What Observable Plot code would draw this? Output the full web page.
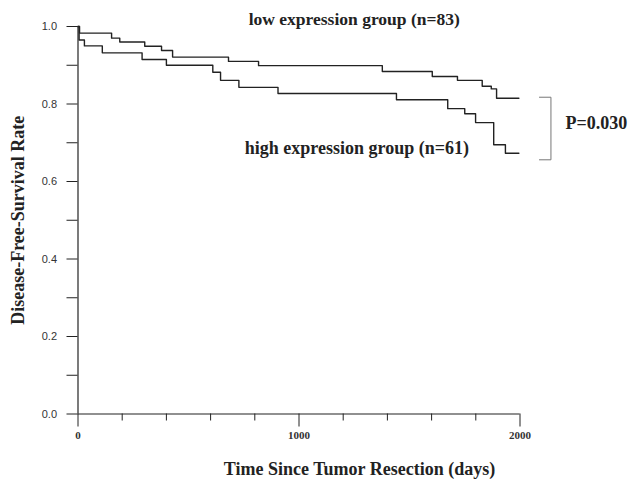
<!DOCTYPE html>
<html>
<head>
<meta charset="utf-8">
<script src="https://cdn.jsdelivr.net/npm/d3@7"></script>
<script src="https://cdn.jsdelivr.net/npm/@observablehq/plot@0.6"></script>
<style>
  html, body { margin: 0; padding: 0; background: #fff; }
  #chart { width: 628px; height: 488px; }
</style>
</head>
<body>
<div id="chart"></div>
<script>
// Kaplan–Meier steps (days, disease-free survival rate)
const lowDays  = [0, 7, 152, 189, 302, 378, 428, 681, 817, 1377, 1603, 1717, 1829, 1870, 1894, 1995];
const lowRate  = [1.0, 0.983, 0.970, 0.960, 0.949, 0.938, 0.921, 0.910, 0.899, 0.884, 0.871, 0.861, 0.846, 0.839, 0.815, 0.815];
const highDays = [0, 5, 29, 110, 290, 400, 610, 645, 728, 905, 1441, 1673, 1750, 1799, 1881, 1934, 1995];
const highRate = [1.0, 0.965, 0.950, 0.932, 0.915, 0.900, 0.882, 0.861, 0.843, 0.827, 0.811, 0.788, 0.775, 0.752, 0.695, 0.673, 0.673];

// Ticks
const xMajorTicks = [0, 1000, 2000];
const xMinorTicks = [200, 400, 600, 800, 1200, 1400, 1600, 1800];
const yMajorTicks = [0, 0.2, 0.4, 0.6, 0.8, 1.0];
const yMinorTicks = [0.1, 0.3, 0.5, 0.7, 0.9];

// Texts
const lowLabel = "low expression group (n=83)";
const highLabel = "high expression group (n=61)";
const pLabel = "P=0.030";
const xTitle = "Time Since Tumor Resection (days)";
const yTitle = "Disease-Free-Survival Rate";

// Bracket joining the two curve ends
const bracketDays = [2088, 2140, 2140, 2088];
const bracketRate = [0.8175, 0.8175, 0.656, 0.656];

const low = lowDays.map((d, i) => ({days: d, rate: lowRate[i]}));
const high = highDays.map((d, i) => ({days: d, rate: highRate[i]}));
const bracket = bracketDays.map((d, i) => ({days: d, rate: bracketRate[i]}));

const serif = "'Liberation Serif', 'Times New Roman', serif";
const sans = "'Liberation Sans', Arial, sans-serif";
const ink = "#222";

const chart = Plot.plot({
  width: 628,
  height: 488,
  marginLeft: 77.5,
  marginRight: 108.5,
  marginTop: 26,
  marginBottom: 74.5,
  x: {domain: [0, 2000]},
  y: {domain: [0, 1]},
  style: {background: "#fff", color: ink, overflow: "visible"},
  marks: [
    Plot.axisY({ticks: yMajorTicks, tickSize: 11, tickPadding: 10, label: null,
      tickFormat: d => d.toFixed(1), fontFamily: sans, fontSize: 11, fill: "#333", stroke: ink}),
    Plot.axisY({ticks: yMinorTicks, tickSize: 11, label: null, tickFormat: () => "", stroke: ink}),
    Plot.axisX({ticks: xMajorTicks, tickSize: 13, tickPadding: 4, label: null,
      tickFormat: d => String(d), fontFamily: serif, fontSize: 11, fontWeight: "bold", fill: "#333", stroke: ink}),
    Plot.axisX({ticks: xMinorTicks, tickSize: 7, label: null, tickFormat: () => "", stroke: ink}),
    Plot.ruleX([0], {y1: 0, y2: 1, stroke: ink, strokeWidth: 1.2}),
    Plot.ruleY([0], {x1: 0, x2: 2000, stroke: ink, strokeWidth: 1.2}),
    Plot.line(low, {x: "days", y: "rate", curve: "step-after", stroke: "#222", strokeWidth: 1.4}),
    Plot.line(high, {x: "days", y: "rate", curve: "step-after", stroke: "#222", strokeWidth: 1.4}),
    Plot.line(bracket, {x: "days", y: "rate", stroke: "#777", strokeWidth: 1}),
    Plot.text([lowLabel], {x: 1250, y: 1.005, text: d => d, lineAnchor: "bottom", textAnchor: "middle",
      fontFamily: serif, fontWeight: "bold", fontSize: 17.5, fill: ink}),
    Plot.text([highLabel], {x: 1262, y: 0.670, text: d => d, lineAnchor: "bottom", textAnchor: "middle",
      fontFamily: serif, fontWeight: "bold", fontSize: 18, fill: ink}),
    Plot.text([pLabel], {x: 2206, y: 0.7355, text: d => d, lineAnchor: "bottom", textAnchor: "start",
      fontFamily: serif, fontWeight: "bold", fontSize: 18, fill: ink}),
    Plot.text([xTitle], {frameAnchor: "bottom", dx: 60.5, dy: 55, text: d => d, lineAnchor: "middle",
      textAnchor: "middle", fontFamily: serif, fontWeight: "bold", fontSize: 18, fill: ink}),
    Plot.text([yTitle], {frameAnchor: "left", dx: -60, rotate: -90, text: d => d, lineAnchor: "middle",
      textAnchor: "middle", fontFamily: serif, fontWeight: "bold", fontSize: 18, fill: ink})
  ]
});
document.getElementById("chart").appendChild(chart);
</script>
</body>
</html>
